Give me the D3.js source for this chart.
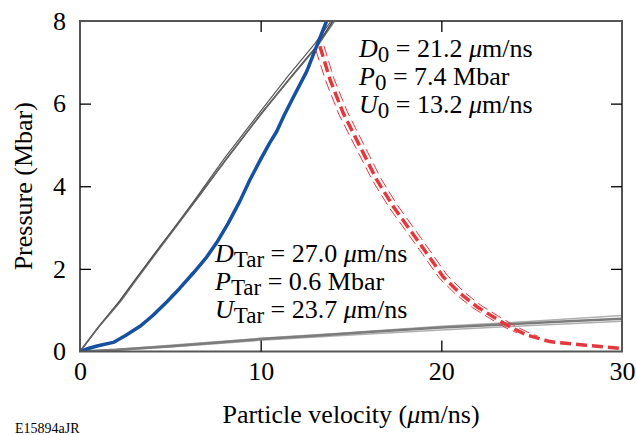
<!DOCTYPE html>
<html>
<head>
<meta charset="utf-8">
<script src="https://cdn.jsdelivr.net/npm/d3@7"></script>
<style>
  body { margin: 0; background: #fff; }
  text { font-family: 'Liberation Serif', 'Times New Roman', serif; }
</style>
</head>
<body>
<div id="chart"></div>
<script>
// particle velocity (um/ns), pressure (Mbar)
const ablatorA = [[0, 0], [1.0, 0.58], [1.75, 0.98], [2.2, 1.22], [3.0, 1.7], [4.5, 2.58], [6.5, 3.72], [8.0, 4.6], [10.0, 5.74], [11.6, 6.6], [13.1, 7.39], [14.0, 8.0]];
const ablatorB = [[0, 0], [1.0, 0.57], [1.8, 0.98], [2.3, 1.24], [3.1, 1.72], [4.6, 2.6], [6.6, 3.76], [8.1, 4.66], [10.1, 5.8], [11.7, 6.64], [13.2, 7.42], [14.1, 8.0]];
const ablatorC = [[5.0, 2.86], [6.5, 3.76], [8.0, 4.68], [10.0, 5.82], [11.5, 6.66], [13.0, 7.45], [13.9, 8.0]];
const measured = [[0, 0], [0.5, 0.08], [1.0, 0.14], [1.84, 0.22], [2.5, 0.38], [3.32, 0.61], [4.0, 0.86], [4.8, 1.2], [5.5, 1.52], [6.27, 1.9], [7.0, 2.28], [7.56, 2.63], [8.2, 3.1], [8.85, 3.64], [9.4, 4.15], [9.96, 4.62], [10.5, 5.05], [10.88, 5.32], [11.3, 5.72], [11.8, 6.15], [12.55, 6.78], [13.1, 7.39], [13.65, 8.0]];
const releaseMid = [[13.28, 7.39], [13.84, 6.58], [14.57, 5.77], [15.5, 4.96], [16.42, 4.16], [17.34, 3.51], [18.26, 2.95], [19.19, 2.38], [20.1, 1.81], [21.03, 1.41], [21.95, 1.09], [22.87, 0.84], [23.8, 0.6], [24.72, 0.4], [26.0, 0.24], [28.0, 0.15], [30.0, 0.07]];
const releaseLeft = [[13.05, 7.3], [13.6, 6.55], [14.33, 5.74], [15.27, 4.93], [16.2, 4.13], [17.12, 3.48], [18.04, 2.92], [18.97, 2.35], [19.88, 1.78], [20.81, 1.38], [21.73, 1.06], [22.65, 0.81], [23.58, 0.57], [24.2, 0.45]];
const releaseRight = [[13.5, 7.4], [14.06, 6.6], [14.8, 5.8], [15.73, 4.99], [16.65, 4.19], [17.57, 3.54], [18.49, 2.98], [19.42, 2.41], [20.33, 1.84], [21.26, 1.44], [22.18, 1.12], [23.1, 0.87], [24.03, 0.63], [24.95, 0.43], [25.3, 0.38]];
const targetMid = [[0, 0], [2, 0.04], [5, 0.13], [8, 0.23], [10, 0.3], [13, 0.38], [16, 0.47], [20, 0.58], [23.7, 0.66], [27, 0.73], [30, 0.79]];
const targetHi = [[0, 0], [2, 0.05], [5, 0.15], [10, 0.32], [15, 0.46], [20, 0.61], [25, 0.73], [30, 0.87]];
const targetLo = [[0, 0], [2, 0.03], [5, 0.11], [10, 0.27], [15, 0.4], [20, 0.52], [25, 0.63], [30, 0.73]];

const xTicks = [0, 10, 20, 30];
const yTicks = [0, 2, 4, 6, 8];

const width = 636;
const height = 435;
const margin = { top: 21, right: 14, bottom: 83.5, left: 80 };
const fontSize = 26;

const svg = d3.select('#chart')
  .append('svg')
  .attr('width', width)
  .attr('height', height);

const x = d3.scaleLinear()
  .domain([0, 30])
  .range([margin.left, width - margin.right]);

const y = d3.scaleLinear()
  .domain([0, 8])
  .range([height - margin.bottom, margin.top]);

const plot = svg.append('g');
plot.append('clipPath')
  .attr('id', 'clip')
  .append('rect')
  .attr('x', x(0))
  .attr('y', y(8))
  .attr('width', x(30) - x(0))
  .attr('height', y(0) - y(8));

const line = d3.line()
  .x(d => x(d[0]))
  .y(d => y(d[1]));

const lines = plot.append('g').attr('clip-path', 'url(#clip)');

function draw(data, color, w, dash) {
  lines.append('path')
    .datum(data)
    .attr('fill', 'none')
    .attr('stroke', color)
    .attr('stroke-width', w)
    .attr('stroke-linejoin', 'round')
    .attr('stroke-dasharray', dash || null)
    .attr('d', line);
}

draw(targetHi, '#b0b0b0', 1.5);
draw(targetLo, '#b0b0b0', 1.5);
draw(targetMid, '#7c7c7c', 2.5);
draw(ablatorA, '#4a4a4a', 1.7);
draw(ablatorB, '#6a6a6a', 1.2);
draw(ablatorC, '#5a5a5a', 1.2);
draw(measured, '#1650a0', 3.5);
draw(releaseLeft, '#e0393e', 1, '11,5');
draw(releaseRight, '#e0393e', 1, '11,5');
draw(releaseMid, '#e0393e', 3.5, '11,5');

// frame
svg.append('rect')
  .attr('x', x(0))
  .attr('y', y(8))
  .attr('width', x(30) - x(0))
  .attr('height', y(0) - y(8))
  .attr('fill', 'none')
  .attr('stroke', '#555')
  .attr('stroke-width', 2);

const inner = xTicks.slice(1, -1);
const innerY = yTicks.slice(1, -1);

function styleAxis(g) {
  g.select('.domain').remove();
  g.selectAll('.tick line').attr('stroke', '#000').attr('stroke-width', 1.3);
}

svg.append('g')
  .attr('transform', `translate(0, ${y(0)})`)
  .call(d3.axisBottom(x).tickValues(xTicks).tickSizeInner(0).tickPadding(10))
  .call(styleAxis)
  .selectAll('text')
  .attr('fill', '#000')
  .style('font-size', `${fontSize}px`)
  .attr('font-family', 'Liberation Serif');

svg.append('g')
  .attr('transform', `translate(0, ${y(0)})`)
  .call(d3.axisBottom(x).tickValues(inner).tickSizeInner(-11).tickFormat(''))
  .call(styleAxis);

svg.append('g')
  .attr('transform', `translate(0, ${y(8)})`)
  .call(d3.axisTop(x).tickValues(inner).tickSizeInner(-11).tickFormat(''))
  .call(styleAxis);

svg.append('g')
  .attr('transform', `translate(${x(0)}, 0)`)
  .call(d3.axisLeft(y).tickValues(yTicks).tickSizeInner(0).tickPadding(14))
  .call(styleAxis)
  .selectAll('text')
  .attr('fill', '#000')
  .style('font-size', `${fontSize}px`)
  .attr('font-family', 'Liberation Serif');

svg.append('g')
  .attr('transform', `translate(${x(0)}, 0)`)
  .call(d3.axisLeft(y).tickValues(innerY).tickSizeInner(-11).tickFormat(''))
  .call(styleAxis);

svg.append('g')
  .attr('transform', `translate(${x(30)}, 0)`)
  .call(d3.axisRight(y).tickValues(innerY).tickSizeInner(-11).tickFormat(''))
  .call(styleAxis);

// axis titles
svg.append('text')
  .attr('x', (x(0) + x(30)) / 2)
  .attr('y', 423)
  .attr('text-anchor', 'middle')
  .style('font-size', `${fontSize}px`)
  .call(t => {
    t.append('tspan').text('Particle velocity (');
    t.append('tspan').attr('font-style', 'italic').text('\u03bc');
    t.append('tspan').text('m/ns)');
  });

svg.append('text')
  .attr('transform', `translate(32, ${(y(0) + y(8)) / 2}) rotate(-90)`)
  .attr('text-anchor', 'middle')
  .style('font-size', `${fontSize}px`)
  .text('Pressure (Mbar)');

svg.append('text')
  .attr('x', 15)
  .attr('y', 433)
  .style('font-size', '14px')
  .text('E15894aJR');

// annotations
function annot(x0, y0, rows) {
  rows.forEach((r, i) => {
    const t = svg.append('text')
      .attr('x', x0)
      .attr('y', y0 + i * 28)
      .style('font-size', `${fontSize}px`);
    t.append('tspan').attr('font-style', 'italic').text(r[0]);
    t.append('tspan').attr('dy', 5).style('font-size', '23px').text(r[1]);
    t.append('tspan').attr('dy', -5).text(r[2]);
    if (r[3]) {
      t.append('tspan').attr('font-style', 'italic').text('\u03bc');
      t.append('tspan').text('m/ns');
    }
  });
}

annot(359, 57, [
  ['D', '0', ' = 21.2 ', true],
  ['P', '0', ' = 7.4 Mbar', false],
  ['U', '0', ' = 13.2 ', true],
]);

annot(215, 262, [
  ['D', 'Tar', ' = 27.0 ', true],
  ['P', 'Tar', ' = 0.6 Mbar', false],
  ['U', 'Tar', ' = 23.7 ', true],
]);
</script>
</body>
</html>
